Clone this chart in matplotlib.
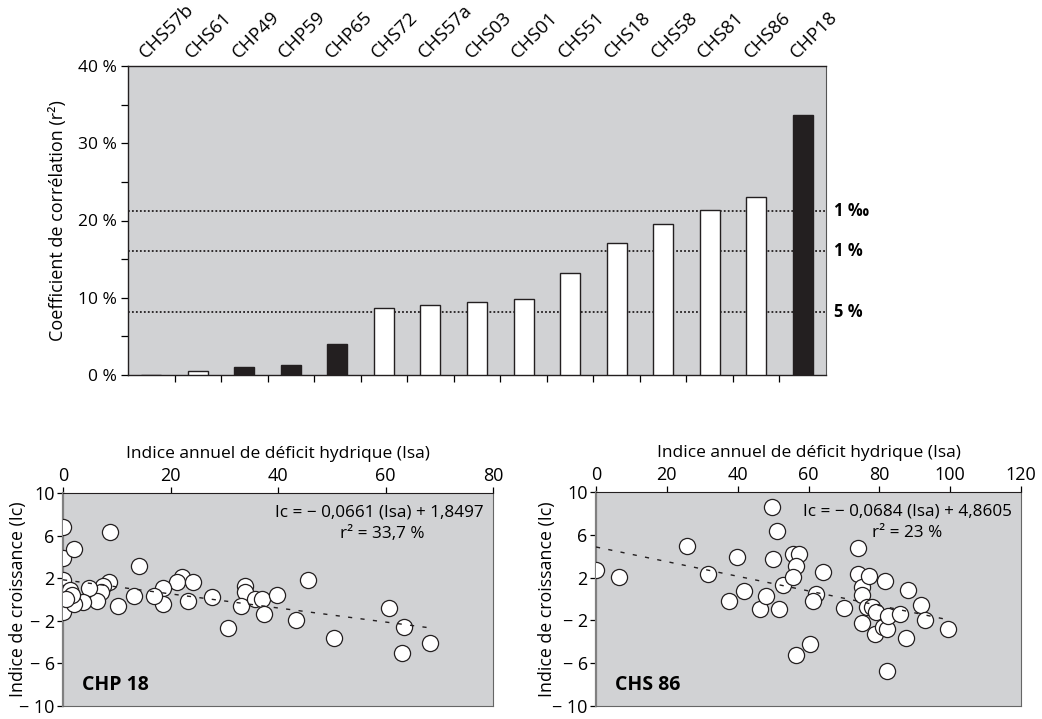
import matplotlib
matplotlib.use("Agg")
import matplotlib.pyplot as plt
import numpy as np

plt.rcParams['font.family'] = ['Open Sans', 'DejaVu Sans']

# --- Bar chart: correlation coefficient per chronology ---
sites = ["CHS57b", "CHS61", "CHP49", "CHP59", "CHP65", "CHS72", "CHS57a", "CHS03",
         "CHS01", "CHS51", "CHS18", "CHS58", "CHS81", "CHS86", "CHP18"]
r2_pct = [0.0, 0.5, 1.0, 1.3, 4.0, 8.7, 9.0, 9.45, 9.9, 13.2, 17.1, 19.6, 21.4, 23.0, 33.7]
is_chp = [False, False, True, True, True, False, False, False, False, False, False,
          False, False, False, True]
thresholds = [21.2, 16.0, 8.1]
threshold_labels = ["1 ‰", "1 %", "5 %"]

# --- Scatter: CHP 18 ---
chp18_isa = [0, 0, 0, 0, 0, 2.1, 8.8, 14.2, 22.1, 21.3, 24.2, 45.6, 18.55, 18.55, 17.0,
             13.2, 10.3, 23.2, 27.8, 33.8, 33.8, 33.2, 35.7, 37.1, 37.4, 39.9, 43.4,
             30.7, 50.5, 60.6, 63.4, 63.1, 68.2, 8.6, 7.5, 7.1, 6.4, 4.75, 3.8, 2.1,
             1.35, 1.7, 0.6]
chp18_ic = [6.85, 3.9, 1.85, 0.64, -1.15, 4.75, 6.3, 3.17, 2.15, 1.67, 1.6, 1.8, 1.08,
            -0.46, 0.37, 0.37, -0.62, -0.1, 0.21, 1.24, 0.67, -0.61, 0.04, 0.03, -1.35,
            0.4, -1.9, -2.7, -3.6, -0.83, -2.56, -5.04, -4.13, 1.66, 1.25, 0.74, -0.15,
            1.06, -0.27, -0.46, 0.9, 0.38, 0.08]
chp18_slope, chp18_icpt = -0.0661, 1.8497

# --- Scatter: CHS 86 ---
chs86_isa = [0, 6.6, 25.6, 31.7, 39.8, 37.6, 41.9, 46.3, 47.9, 49.6, 50.1, 51.0, 51.8,
             52.9, 55.5, 57.4, 56.5, 55.5, 56.5, 60.4, 62.1, 61.4, 64.2, 70.1, 73.9,
             73.9, 75.0, 75.0, 75.0, 77.2, 76.4, 77.8, 79.0, 78.9, 81.6, 81.1, 82.1,
             82.5, 82.1, 85.8, 87.5, 88.0, 91.8, 92.9, 99.5]
chs86_ic = [2.72, 2.04, 4.94, 2.37, 3.92, -0.21, 0.78, -0.93, 0.27, 8.59, 3.74, 6.32,
            -0.93, 1.32, 4.25, 4.25, 3.05, 2.07, -5.21, -4.16, 0.51, -0.21, 2.57, -0.87,
            4.76, 2.37, 1.11, 0.36, -2.28, 2.16, -0.72, -0.72, -1.17, -3.23, 1.68,
            -2.66, -2.81, -1.59, -6.77, -1.38, -3.68, 0.81, -0.57, -1.98, -2.81]
chs86_slope, chs86_icpt = -0.0684, 4.8605

BG = "#d1d2d4"
INK = "#231f20"
W, H = 1042, 719
fig = plt.figure(figsize=(W / 100, H / 100), dpi=100)


def frac(left, top, right, bottom):
    return [left / W, 1 - bottom / H, (right - left) / W, (bottom - top) / H]


# ---------------- bar chart ----------------
ax = fig.add_axes(frac(128, 66, 826, 375))
ax.set_facecolor(BG)
x = np.arange(len(sites))
colors = [INK if c else "white" for c in is_chp]
ax.bar(x, r2_pct, width=0.43, color=colors, edgecolor=INK, linewidth=1.0, zorder=3)
for t, lab in zip(thresholds, threshold_labels):
    ax.axhline(t, color=INK, linestyle=(0, (1, 1.2)), linewidth=1.3, zorder=2)
    ax.annotate(lab, xy=(1.0, t), xycoords=("axes fraction", "data"),
                xytext=(6, 0), textcoords="offset points", va="center", ha="left",
                fontsize=12, fontweight="bold", annotation_clip=False)
ax.set_xlim(-0.5, len(sites) - 0.5)
ax.set_ylim(0, 40)
ax.set_yticks(np.arange(0, 41, 10))
ax.set_yticklabels([f"{v} %" for v in range(0, 41, 10)], fontsize=12.5)
ax.set_yticks(np.arange(5, 40, 10), minor=True)
ax.tick_params(axis="y", which="both", direction="out", length=5, width=0.9, pad=3)
ax.set_xticks(np.arange(0.5, len(sites) - 0.5, 1.0))
ax.set_xticklabels([])
ax.tick_params(axis="x", direction="out", length=5, width=0.9)
for i, s in enumerate(sites):
    ax.annotate(s, xy=(i, 1.0), xycoords=("data", "axes fraction"),
                xytext=(-2, 3), textcoords="offset points", rotation=45,
                ha="left", va="bottom", fontsize=13.5,
                rotation_mode="anchor", annotation_clip=False)
ax.set_ylabel("Coefficient de corrélation (r²)", fontsize=13)
ax.yaxis.set_label_coords(-0.087, 0.5)
for side in ["top", "bottom", "left"]:
    ax.spines[side].set_color(INK)
    ax.spines[side].set_linewidth(1.0)
ax.spines["right"].set_color("#555555")


# ---------------- scatter plots ----------------
def scatter_panel(rect, isa, ic, slope, icpt, xmax, xticks, eq, r2txt, r2x, name,
                  xfit_max, ylab_x):
    a = fig.add_axes(rect)
    a.set_facecolor(BG)
    a.scatter(isa, ic, s=135, facecolor="white", edgecolor=INK, linewidth=0.9,
              zorder=3)
    xf = np.array([0, xfit_max])
    a.plot(xf, slope * xf + icpt, color=INK, linestyle=(0, (3, 6)),
           linewidth=1.0, zorder=4)
    a.set_xlim(0, xmax)
    a.set_ylim(-10, 10)
    a.xaxis.tick_top()
    a.xaxis.set_label_position("top")
    a.set_xticks(xticks)
    a.set_xticklabels([str(v) for v in xticks], fontsize=13)
    a.set_xlabel("Indice annuel de déficit hydrique (Isa)", fontsize=12.5, labelpad=6)
    yt = [10, 6, 2, -2, -6, -10]
    a.set_yticks(yt)
    a.set_yticklabels([str(v) if v > 0 else f"− {abs(v)}" for v in yt], fontsize=13)
    a.tick_params(axis="both", direction="out", length=4, width=0.9, pad=2)
    a.set_ylabel("Indice de croissance (Ic)", fontsize=12.8)
    a.yaxis.set_label_coords(ylab_x, 0.5)
    a.text(0.978, 0.945, eq, transform=a.transAxes, ha="right", va="top", fontsize=12.3)
    a.text(r2x, 0.845, r2txt, transform=a.transAxes, ha="right", va="top", fontsize=12.3)
    a.text(0.045, 0.05, name, transform=a.transAxes, ha="left", va="bottom",
           fontsize=14, fontweight="bold")
    a.spines["top"].set_color(INK)
    a.spines["left"].set_color("#808080")
    a.spines["left"].set_linewidth(1.6)
    a.spines["right"].set_color("#666666")
    a.spines["bottom"].set_color("#666666")
    return a


scatter_panel(frac(63, 493, 493, 706), chp18_isa, chp18_ic, chp18_slope, chp18_icpt,
              80, [0, 20, 40, 60, 80], "Ic = − 0,0661 (Isa) + 1,8497", "r² = 33,7 %",
              0.84, "CHP 18", 68, -0.084)
scatter_panel(frac(596, 492, 1021, 706), chs86_isa, chs86_ic, chs86_slope, chs86_icpt,
              120, [0, 20, 40, 60, 80, 100, 120], "Ic = − 0,0684 (Isa) + 4,8605",
              "r² = 23 %", 0.815, "CHS 86", 100, -0.094)

fig.savefig("out.png", dpi=100)
